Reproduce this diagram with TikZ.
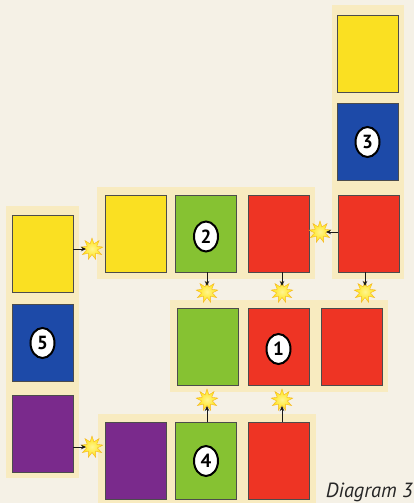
\documentclass[tikz,border=0pt]{standalone}
\usepackage{fontspec}
\setmainfont{PT Sans}
\usetikzlibrary{shapes.geometric,arrows.meta}
\definecolor{bgc}{HTML}{F5F1E6}
\definecolor{panelc}{HTML}{F8EBC0}
\definecolor{cyel}{HTML}{FAE022}
\definecolor{cgrn}{HTML}{86C232}
\definecolor{cred}{HTML}{EE3424}
\definecolor{cblu}{HTML}{1D4AA8}
\definecolor{cpur}{HTML}{7A2A8C}
\definecolor{starin}{HTML}{FFF590}
\definecolor{starout}{HTML}{FFE20A}
\definecolor{staro}{HTML}{F5B520}
\tikzset{
  card/.style={draw=black!70,line width=0.5pt,minimum width=61pt,minimum height=77pt,inner sep=0pt},
  panel/.style={fill=panelc,draw=none},
  burst/.style={star,star points=9,star point ratio=2.0,minimum size=22pt,inner sep=0pt,inner color=starin,outer color=starout,draw=staro,line width=0.4pt},
  badge/.style={ellipse,draw=black,line width=2pt,fill=white,minimum width=24pt,minimum height=30pt,inner sep=0pt,font=\bfseries\fontsize{19}{19}\selectfont},
  arr/.style={-{Stealth[length=5pt,width=4.5pt]},line width=0.9pt,black!90,shorten >=6pt}
}
\begin{document}
\begin{tikzpicture}[x=1pt,y=-1pt]
\fill[bgc] (0,0) rectangle (414,503);
\useasboundingbox (0,0) rectangle (414,503);
% panels
\fill[panel] (332,5) rectangle (404,279);
\fill[panel] (97,187) rectangle (315,279);
\fill[panel] (6,206) rectangle (79,478);
\fill[panel] (170,300) rectangle (388,392);
\fill[panel] (98,414) rectangle (316,503);
% group 3
\node[card,fill=cyel] (g3y) at (367.5,53.5) {};
\node[card,fill=cblu] (g3b) at (367.5,142) {};
\node[card,fill=cred] (g3r) at (368.5,233.5) {};
% row 2
\node[card,fill=cyel] (r2y) at (135.5,233.5) {};
\node[card,fill=cgrn] (r2g) at (206,233.5) {};
\node[card,fill=cred] (r2r) at (278.5,233.5) {};
% left column
\node[card,fill=cyel] (l5y) at (42.5,254) {};
\node[card,fill=cblu] (l5b) at (42.5,343) {};
\node[card,fill=cpur] (l5p) at (42.5,434) {};
% row 1
\node[card,fill=cgrn] (r1g) at (208,347) {};
\node[card,fill=cred] (r1r) at (278.5,347) {};
\node[card,fill=cred] (r1s) at (351.5,347) {};
% row 4
\node[card,fill=cpur] (r4p) at (136,461) {};
\node[card,fill=cgrn] (r4g) at (206,461) {};
\node[card,fill=cred] (r4r) at (279,461) {};
% badges
\node[badge] (b1) at ([yshift=-2pt]r1r) {1};
\node[badge] (b2) at ([yshift=-3pt]r2g) {2};
\node[badge] (b3) at (g3b) {3};
\node[badge] (b4) at (r4g) {4};
\node[badge] (b5) at (l5b) {5};
% stars
\node[burst] (sA) at (92,249) {};
\node[burst] (sB) at (320,232) {};
\node[burst] (sC) at (207,292) {};
\node[burst] (sD) at (282,292) {};
\node[burst] (sE) at (365,292) {};
\node[burst] (sF) at (207,400) {};
\node[burst] (sG) at (282,400) {};
\node[burst] (sH) at (92,447) {};
% connectors
\draw[arr] (sA -| l5y.east) -- (sA.center);
\draw[arr] (sB -| g3r.west) -- (sB.center);
\draw[arr] (sC |- r2g.south) -- (sC.center);
\draw[arr] (sD |- r2r.south) -- (sD.center);
\draw[arr] (sE |- g3r.south) -- (sE.center);
\draw[arr] (sF |- r4g.north) -- (sF.center);
\draw[arr] (sG |- r4r.north) -- (sG.center);
\draw[arr] (sH -| l5p.east) -- (sH.center);
% caption
\node[anchor=base east,inner sep=0pt,font=\itshape\fontsize{20.5}{20.5}\selectfont,text=black!85] (cap) at (413,497) {Diagram 3};
\end{tikzpicture}
\end{document}
